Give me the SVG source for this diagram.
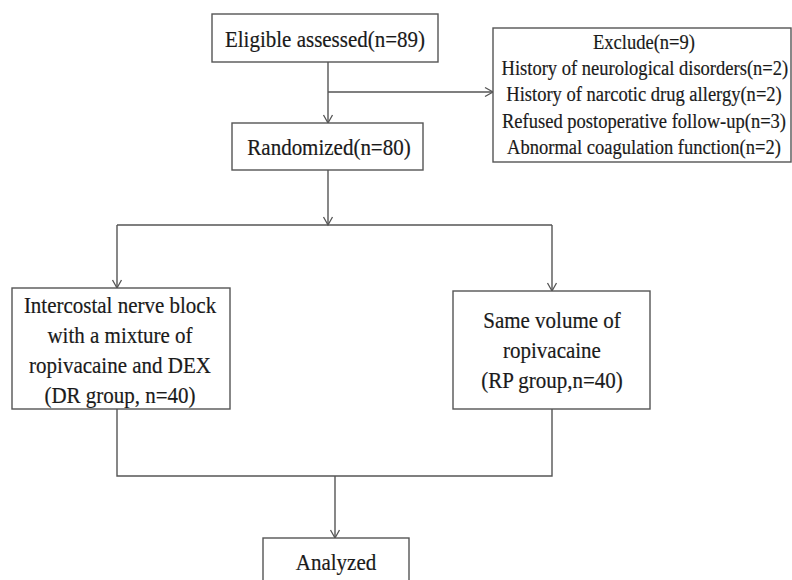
<svg xmlns="http://www.w3.org/2000/svg" width="792" height="580" viewBox="0 0 792 580">
<style>
.box{fill:#fff;stroke:#555;stroke-width:1.4}
.t{font-family:"Liberation Serif","Times New Roman",serif;font-size:24px;fill:#1a1a1a;stroke:#1a1a1a;stroke-width:0.2;text-anchor:middle}
.s{font-size:21.3px}
.ln{fill:none;stroke:#555;stroke-width:1.4}
</style>
<defs>
<marker id="ah" markerWidth="12" markerHeight="12" refX="10" refY="6" orient="auto" markerUnits="userSpaceOnUse">
<path d="M2,1.5 L10,6 L2,10.5" fill="none" stroke="#555" stroke-width="1.3"/>
</marker>
</defs>
<rect width="792" height="580" fill="#fff"/>
<g id="connectors">
<path class="ln" d="M328,62 V123" marker-end="url(#ah)"/>
<path class="ln" d="M328,92 H493" marker-end="url(#ah)"/>
<path class="ln" d="M328,170 V225" marker-end="url(#ah)"/>
<path class="ln" d="M117,225 H552"/>
<path class="ln" d="M117,225 V288" marker-end="url(#ah)"/>
<path class="ln" d="M552,225 V291" marker-end="url(#ah)"/>
<path class="ln" d="M117,409 V476 H552 V409"/>
<path class="ln" d="M335,476 V538" marker-end="url(#ah)"/>
</g>
<g id="eligible">
<rect class="box" x="212" y="14" width="226" height="48"/>
<g transform="translate(325 0) scale(0.875 1)">
<text class="t" x="0" y="47">Eligible assessed(n=89)</text>
</g>
</g>
<g id="exclude">
<rect class="box" x="493" y="28" width="298" height="134"/>
<g transform="translate(644 0) scale(0.87 1)">
<text class="t s" x="0" y="49">Exclude(n=9)</text>
<text class="t s" x="1" y="75.5">History of neurological disorders(n=2)</text>
<text class="t s" x="0" y="101.5">History of narcotic drug allergy(n=2)</text>
<text class="t s" x="0" y="128">Refused postoperative follow-up(n=3)</text>
<text class="t s" x="0" y="154">Abnormal coagulation function(n=2)</text>
</g>
</g>
<g id="randomized">
<rect class="box" x="232" y="123" width="191" height="47"/>
<g transform="translate(329 0) scale(0.875 1)">
<text class="t" x="0" y="155">Randomized(n=80)</text>
</g>
</g>
<g id="dr">
<rect class="box" x="12" y="288" width="218" height="121"/>
<g transform="translate(120 0) scale(0.875 1)">
<text class="t" x="0" y="313">Intercostal nerve block</text>
<text class="t" x="0" y="343">with a mixture of</text>
<text class="t" x="0" y="373">ropivacaine and DEX</text>
<text class="t" x="0" y="403">(DR group, n=40)</text>
</g>
</g>
<g id="rp">
<rect class="box" x="453" y="291" width="197" height="118"/>
<g transform="translate(552 0) scale(0.875 1)">
<text class="t" x="0" y="328">Same volume of</text>
<text class="t" x="0" y="358">ropivacaine</text>
<text class="t" x="0" y="388">(RP group,n=40)</text>
</g>
</g>
<g id="analyzed">
<rect class="box" x="263" y="538" width="146" height="60"/>
<g transform="translate(336 0) scale(0.875 1)">
<text class="t" x="0" y="570">Analyzed</text>
</g>
</g>
</svg>
